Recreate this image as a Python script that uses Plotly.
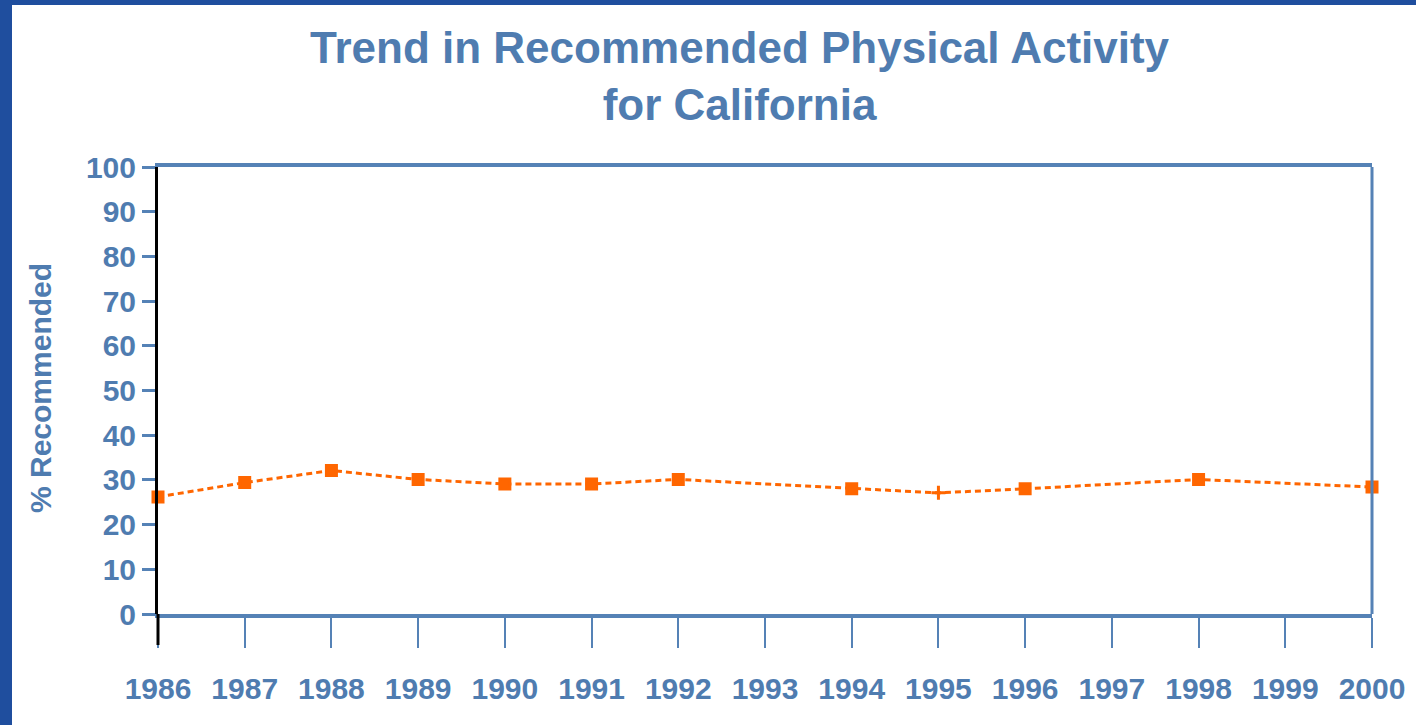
import plotly.graph_objects as go

# ---- data ----
years = [1986, 1987, 1988, 1989, 1990, 1991, 1992, 1993, 1994, 1995, 1996, 1997, 1998, 1999, 2000]
pct_recommended = [26.2, 29.4, 32.1, 30.1, 29.1, 29.1, 30.1, None, 28.0, 27.1, 28.0, None, 30.1, None, 28.4]
tick_labels = [str(y) for y in years]
y_ticks = list(range(0, 101, 10))

TEXT = "#4f7cb0"
AXIS = "#5582b6"
ORANGE = "#ff6600"
BORDER = "#1f4e9e"
FONT = "Liberation Sans"

W, H = 1416, 725
L, R, T, B = 158, 1372, 167, 614
pw, ph = R - L, B - T

def px_x(px):
    return (px - L) / pw

def px_y(py):
    return (B - py) / ph

symbols = ["square"] * len(years)
symbols[years.index(1995)] = "cross-thin"

fig = go.Figure()
fig.add_trace(go.Scatter(
    x=years, y=pct_recommended, mode="lines+markers",
    connectgaps=True,
    line=dict(color=ORANGE, width=3, dash="6px,4px"),
    marker=dict(symbol=symbols, size=10, color=ORANGE,
                line=dict(color=ORANGE, width=3)),
    cliponaxis=False, showlegend=False,
))

fig.update_layout(
    width=W, height=H,
    margin=dict(l=L, r=W - R, t=T, b=H - B),
    paper_bgcolor="white", plot_bgcolor="white",
    xaxis=dict(
        range=[1986, 2000], tickvals=years, ticktext=tick_labels,
        showgrid=False, zeroline=False,
        showline=True, linecolor=AXIS, linewidth=4, mirror=True,
        ticks="outside", ticklen=30, tickwidth=2, tickcolor=AXIS,
        ticklabelstandoff=15,
        tickfont=dict(family=FONT, size=30, color=TEXT, weight="bold"),
    ),
    yaxis=dict(
        range=[0, 100], tickvals=y_ticks,
        showgrid=False, zeroline=False,
        showline=True, linecolor="black", linewidth=3,
        ticks="outside", ticklen=13, tickwidth=3, tickcolor=AXIS,
        tickfont=dict(family=FONT, size=30, color=TEXT, weight="bold"),
    ),
    annotations=[
        dict(text="<b>Trend in Recommended Physical Activity</b><br><b>for California</b>",
             xref="paper", yref="paper",
             x=px_x(740), y=px_y(76), xanchor="center", yanchor="middle", showarrow=False,
             align="center", font=dict(family=FONT, size=44, color=TEXT)),
        dict(text="<b>% Recommended</b>", xref="paper", yref="paper",
             x=px_x(40), y=px_y(388), xanchor="center", yanchor="middle", showarrow=False,
             textangle=-90, font=dict(family=FONT, size=30, color=TEXT)),
    ],
    shapes=[
        dict(type="line", xref="paper", yref="paper", x0=1, x1=1, y0=0, y1=1,
             line=dict(color=AXIS, width=3)),
        dict(type="line", xref="paper", yref="paper", x0=0, x1=0, y0=px_y(645), y1=0,
             line=dict(color="black", width=3)),
        dict(type="rect", xref="paper", yref="paper", x0=px_x(0), x1=px_x(12),
             y0=px_y(H), y1=px_y(0), fillcolor=BORDER, line=dict(width=0), layer="above"),
        dict(type="rect", xref="paper", yref="paper", x0=px_x(0), x1=px_x(W),
             y0=px_y(5), y1=px_y(0), fillcolor=BORDER, line=dict(width=0), layer="above"),
    ],
)

fig.write_html("out.html", config={"displayModeBar": False},
               post_script="document.body.style.margin='0';")
